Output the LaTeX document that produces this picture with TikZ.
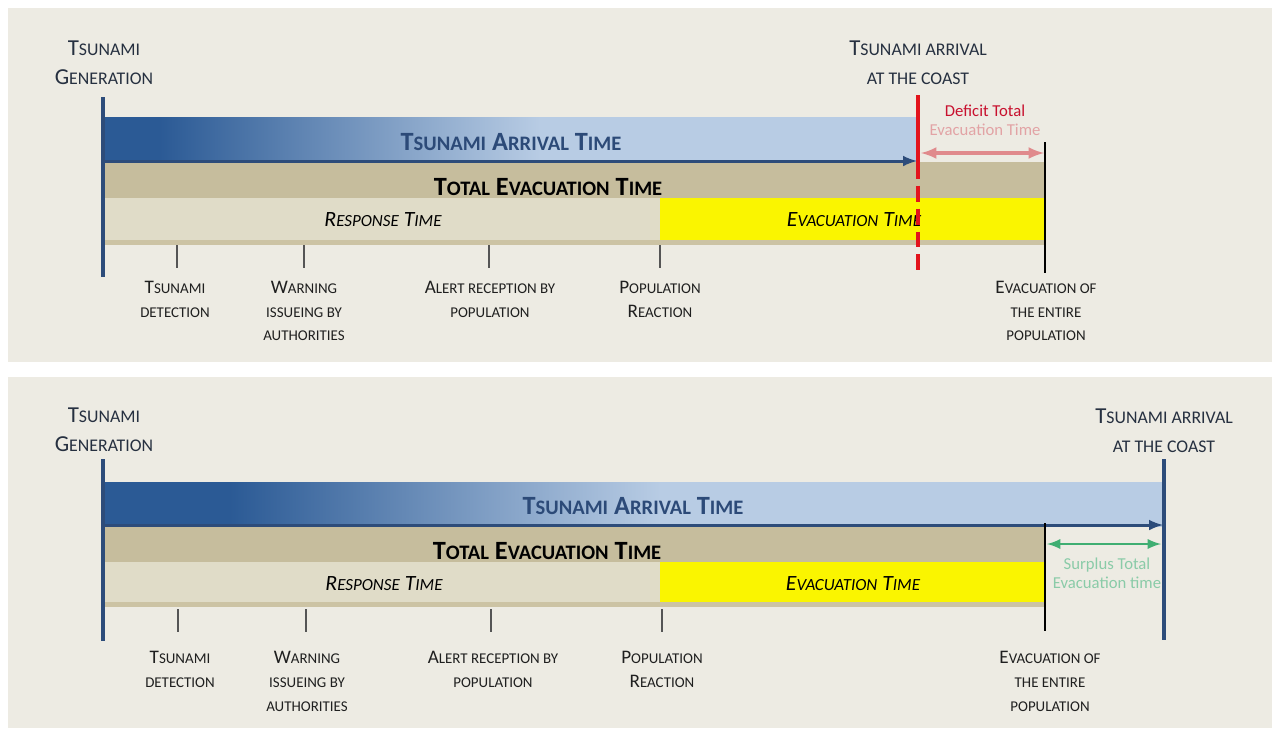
\documentclass[tikz,border=0pt]{standalone}
\usepackage{fontspec}
\setmainfont{Carlito}

\definecolor{panelbg}{HTML}{EDEBE3}
\definecolor{bluedark}{HTML}{2B5A95}
\definecolor{bluelight}{HTML}{B8CCE4}
\definecolor{bluetext}{HTML}{2C4A78}
\definecolor{lineblue}{HTML}{2D4C7A}
\definecolor{tanband}{HTML}{C6BD9D}
\definecolor{respband}{HTML}{E0DCC8}
\definecolor{evacband}{HTML}{FAF500}
\definecolor{stripband}{HTML}{CCC3A4}
\definecolor{tickgray}{HTML}{555555}
\definecolor{coastred}{HTML}{E3141C}
\definecolor{deficitred}{HTML}{E08A8C}
\definecolor{deficittxt}{HTML}{C8102E}
\definecolor{deficitfade}{HTML}{E2A3A5}
\definecolor{surplusgreen}{HTML}{3FAE72}
\definecolor{surplusfade}{HTML}{8ACBA8}
\definecolor{labeltxt}{HTML}{263040}

% fake small caps: smaller capitals
\makeatletter
\newdimen\smdim
\newcommand\sm[1]{{\smdim=\f@size pt\smdim=0.78\smdim\fontsize{\smdim}{\f@baselineskip}\selectfont #1}}
\makeatother

\tikzset{
  genline/.style={draw=lineblue, line width=2pt},
  tick/.style={draw=tickgray, line width=1.1pt},
  endline/.style={draw=black, line width=0.9pt},
  arrival/.style={draw=lineblue, line width=1.7pt, -latex},
  coastline/.style={draw=coastred, line width=2.3pt},
  lbl/.style={font=\fontsize{10.9}{13.6}\selectfont, align=center, text=black!88, inner sep=0pt},
  toplbl/.style={font=\fontsize{13}{16.5}\selectfont, align=center, text=labeltxt, inner sep=0pt},
  bandtxt/.style={font=\bfseries\fontsize{15}{18}\selectfont, inner sep=0pt},
  phasetxt/.style={font=\itshape\fontsize{12.4}{15}\selectfont, inner sep=0pt},
  note/.style={font=\fontsize{9.5}{10.8}\selectfont, align=center, inner sep=0pt},
}

\begin{document}
\begin{tikzpicture}[x=0.02cm, y=-0.02cm]
  \useasboundingbox (0,0) rectangle (1277,728);

  % deficit case
  \fill[panelbg] (8,8) rectangle (1272,362);
  \fill[bluedark] (103,117) rectangle (160,162);
  \shade[left color=bluedark, right color=bluelight] (159.5,117) rectangle (540,162);
  \fill[bluelight] (539.5,117) rectangle (916,162);
  \fill[tanband] (103,162) rectangle (1045,198);
  \fill[respband] (103,198) rectangle (660,240);
  \fill[evacband] (660,198) rectangle (1045,240);
  \fill[stripband] (103,240) rectangle (1045,245);

  \node[bandtxt, text=bluetext] (arr1) at (511,142) {T\sm{SUNAMI} A\sm{RRIVAL} T\sm{IME}};
  \node[bandtxt] (tot1) at (548,187) {T\sm{OTAL} E\sm{VACUATION} T\sm{IME}};
  \node[phasetxt] (resp1) at (383,220) {R\sm{ESPONSE} T\sm{IME}};
  \node[phasetxt] (evac1) at (854,220) {E\sm{VACUATION} T\sm{IME}};

  \coordinate (g1top) at (103,97);
  \coordinate (g1bot) at (103,277);
  \draw[genline] (g1top) -- (g1bot);
  \node[toplbl] (gen1) at (104,63) {T\sm{SUNAMI}\\G\sm{ENERATION}};

  \foreach \x in {177,304,489,660}
    \draw[tick] (\x,245) -- (\x,268);
  \node[lbl] (det1) at (175,299) {T\sm{SUNAMI}\\\sm{DETECTION}};
  \node[lbl] (warn1) at (304,311) {W\sm{ARNING}\\\sm{ISSUEING BY}\\\sm{AUTHORITIES}};
  \node[lbl] (alert1) at (490,299) {A\sm{LERT RECEPTION BY}\\\sm{POPULATION}};
  \node[lbl] (react1) at (660,299) {P\sm{OPULATION}\\R\sm{EACTION}};
  \node[lbl] (pop1) at (1046,311) {E\sm{VACUATION OF}\\\sm{THE ENTIRE}\\\sm{POPULATION}};

  \coordinate (end1top) at (1045,142);
  \coordinate (end1bot) at (1045,273);
  \draw[endline] (end1top) -- (end1bot);

  \coordinate (a1start) at (103,161);
  \coordinate (a1end) at (917,161);
  \draw[arrival] (a1start) -- (a1end);

  \coordinate (c1top) at (918,95);
  \coordinate (c1mid) at (918,163);
  \coordinate (c1bot) at (918,277);
  \draw[coastline] (c1top) -- (c1mid);
  \draw[coastline, dash pattern=on 9pt off 4pt] (c1mid) -- (c1bot);
  \node[toplbl] (coast1) at (918,63) {T\sm{SUNAMI ARRIVAL}\\\sm{AT THE COAST}};

  \coordinate (d1a) at (921,153);
  \coordinate (d1b) at (1044,153);
  \draw[draw=deficitred, line width=2pt, latex-latex] (d1a) -- (d1b);
  \node[note, text=deficittxt] (def1) at (985,120) {Deficit Total\\\textcolor{deficitfade}{Evacuation Time}};

  % surplus case
  \fill[panelbg] (8,377) rectangle (1272,728);
  \fill[bluedark] (103,482) rectangle (230,527);
  \shade[left color=bluedark, right color=bluelight] (229.5,482) rectangle (660,527);
  \fill[bluelight] (659.5,482) rectangle (1163,527);
  \fill[tanband] (103,527) rectangle (1045,562);
  \fill[respband] (103,562) rectangle (660,602);
  \fill[evacband] (660,562) rectangle (1045,602);
  \fill[stripband] (103,602) rectangle (1045,607);

  \node[bandtxt, text=bluetext] (arr2) at (633,506) {T\sm{SUNAMI} A\sm{RRIVAL} T\sm{IME}};
  \node[bandtxt] (tot2) at (547,551) {T\sm{OTAL} E\sm{VACUATION} T\sm{IME}};
  \node[phasetxt] (resp2) at (384,584) {R\sm{ESPONSE} T\sm{IME}};
  \node[phasetxt] (evac2) at (853,584) {E\sm{VACUATION} T\sm{IME}};

  \coordinate (g2top) at (103,459);
  \coordinate (g2bot) at (103,641);
  \draw[genline] (g2top) -- (g2bot);
  \node[toplbl] (gen2) at (104,430) {T\sm{SUNAMI}\\G\sm{ENERATION}};

  \foreach \x in {178,306,491,662}
    \draw[tick] (\x,609) -- (\x,632);
  \node[lbl] (det2) at (180,669) {T\sm{SUNAMI}\\\sm{DETECTION}};
  \node[lbl] (warn2) at (307,681) {W\sm{ARNING}\\\sm{ISSUEING BY}\\\sm{AUTHORITIES}};
  \node[lbl] (alert2) at (493,669) {A\sm{LERT RECEPTION BY}\\\sm{POPULATION}};
  \node[lbl] (react2) at (662,669) {P\sm{OPULATION}\\R\sm{EACTION}};
  \node[lbl] (pop2) at (1050,681) {E\sm{VACUATION OF}\\\sm{THE ENTIRE}\\\sm{POPULATION}};

  \coordinate (a2start) at (103,525);
  \coordinate (a2end) at (1163,525);
  \draw[arrival] (a2start) -- (a2end);

  \coordinate (end2top) at (1045,523);
  \coordinate (end2bot) at (1045,631);
  \draw[endline] (end2top) -- (end2bot);

  \coordinate (c2top) at (1164,459);
  \coordinate (c2bot) at (1164,640);
  \draw[genline] (c2top) -- (c2bot);
  \node[toplbl] (coast2) at (1164,431) {T\sm{SUNAMI ARRIVAL}\\\sm{AT THE COAST}};

  \coordinate (s2a) at (1047,544);
  \coordinate (s2b) at (1161,544);
  \draw[draw=surplusgreen, line width=1.6pt, latex-latex] (s2a) -- (s2b);
  \node[note, text=surplusfade] (sur2) at (1107,573) {Surplus Total\\Evacuation time};
\end{tikzpicture}
\end{document}
